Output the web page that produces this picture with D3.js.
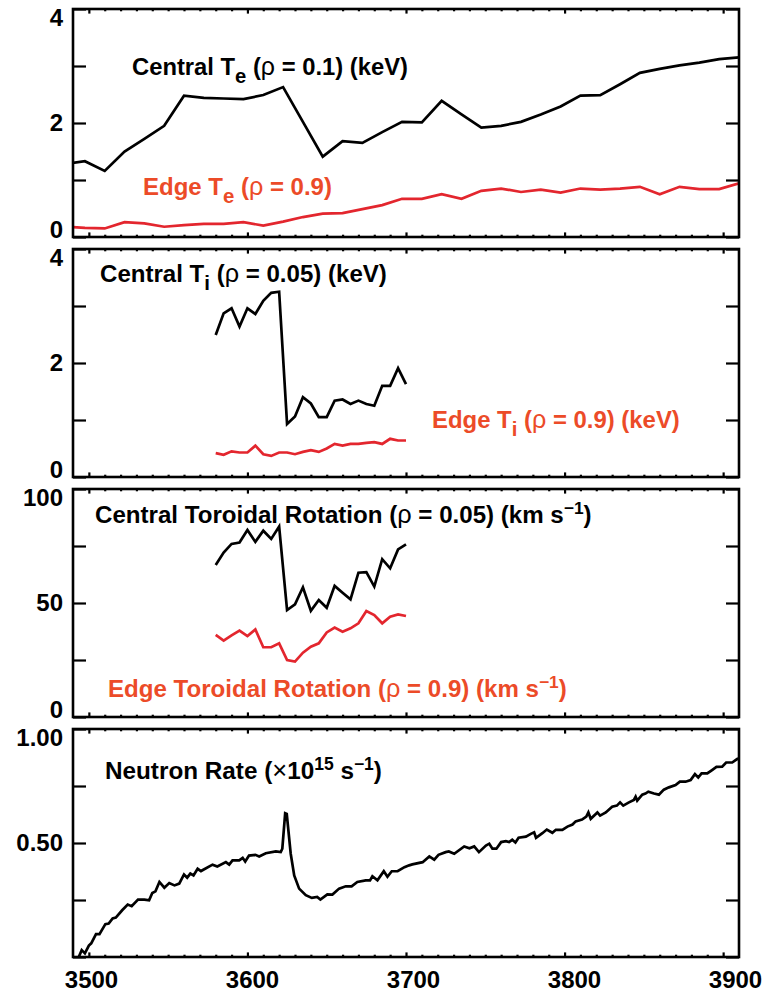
<!DOCTYPE html>
<html><head><meta charset="utf-8">
<script src="https://cdn.jsdelivr.net/npm/d3@7"></script>
<style>
html,body{margin:0;padding:0;background:#fff;}
svg{display:block;font-family:"Liberation Sans",Arial,Helvetica,sans-serif;font-weight:bold;}
</style></head><body>
<svg id="chart" width="774" height="994"></svg>
<script>
// ---------------- data ----------------
const xTicks = [3500, 3600, 3700, 3800, 3900];
const xTickLabels = ["3500", "3600", "3700", "3800", "3900"];

const teTime = [3485, 3497.5, 3510, 3522.5, 3535, 3547.5, 3560, 3572.5, 3585, 3597.5, 3610, 3622.5, 3635, 3647.5, 3660, 3672.5, 3685, 3697.5, 3710, 3722.5, 3735, 3747.5, 3760, 3772.5, 3785, 3797.5, 3810, 3822.5, 3835, 3847.5, 3860, 3872.5, 3885, 3897.5, 3910];
const teCentral = [1.28, 1.33, 1.16, 1.50, 1.72, 1.95, 2.48, 2.44, 2.43, 2.42, 2.49, 2.63, 2.02, 1.41, 1.68, 1.65, 1.84, 2.02, 2.01, 2.39, 2.15, 1.92, 1.95, 2.02, 2.15, 2.29, 2.48, 2.49, 2.68, 2.88, 2.95, 3.01, 3.06, 3.12, 3.15];
const teEdge = [0.18, 0.16, 0.15, 0.26, 0.24, 0.18, 0.21, 0.23, 0.23, 0.26, 0.20, 0.27, 0.35, 0.41, 0.42, 0.49, 0.56, 0.67, 0.67, 0.75, 0.67, 0.81, 0.85, 0.79, 0.83, 0.78, 0.85, 0.83, 0.85, 0.88, 0.75, 0.88, 0.84, 0.84, 0.94];
const teYTicks = [0, 1, 2, 3, 4];
const teYLabels = ["0", "", "2", "", "4"];

const tiTime = [3580, 3585, 3590, 3595, 3600, 3605, 3610, 3615, 3620, 3625, 3630, 3635, 3640, 3645, 3650, 3655, 3660, 3665, 3670, 3675, 3680, 3685, 3690, 3695, 3700];
const tiCentral = [2.49, 2.87, 2.96, 2.64, 2.96, 2.86, 3.09, 3.23, 3.25, 0.93, 1.06, 1.40, 1.29, 1.05, 1.05, 1.34, 1.36, 1.28, 1.34, 1.28, 1.25, 1.60, 1.60, 1.91, 1.63];
const tiEdge = [0.42, 0.39, 0.45, 0.43, 0.43, 0.55, 0.40, 0.37, 0.43, 0.43, 0.40, 0.44, 0.47, 0.44, 0.50, 0.58, 0.55, 0.58, 0.58, 0.60, 0.61, 0.58, 0.67, 0.64, 0.64];
const tiYTicks = [0, 1, 2, 3, 4];
const tiYLabels = ["0", "", "2", "", "4"];

const rotTime = [3580, 3585, 3590, 3595, 3600, 3605, 3610, 3615, 3620, 3625, 3630, 3635, 3640, 3645, 3650, 3655, 3660, 3665, 3670, 3675, 3680, 3685, 3690, 3695, 3700];
const rotCentral = [66.7, 72.1, 75.9, 76.5, 82.0, 76.8, 81.7, 78.1, 83.5, 46.9, 49.4, 56.9, 46.6, 51.3, 47.9, 57.5, 54.5, 51.6, 63.3, 63.5, 57.2, 69.2, 65.2, 73.5, 75.7];
const rotEdge = [36.0, 33.5, 35.8, 37.9, 35.5, 38.4, 30.6, 30.6, 32.3, 25.0, 24.3, 28.2, 30.8, 32.3, 37.1, 39.2, 37.4, 38.9, 41.1, 46.5, 44.7, 41.1, 44.0, 45.0, 44.3];
const rotYTicks = [0, 25, 50, 75, 100];
const rotYLabels = ["0", "", "50", "", "100"];

const neutronTime = [
  3493, 3495.5, 3497.5, 3500, 3501.5, 3504.5, 3506.7, 3510.4, 3512.5, 3515,
  3517, 3521, 3524.5, 3527, 3531, 3535, 3538, 3540, 3542, 3544.5,
  3547.6, 3550.7, 3554, 3557, 3560, 3562, 3564, 3566, 3568.6, 3570.7,
  3578, 3581, 3586.4, 3588.5, 3590.6, 3594.8, 3597, 3598.6, 3601, 3605,
  3607.4, 3611.6, 3617.9, 3621, 3622, 3623.8, 3624.8, 3627.3, 3629.5, 3632.6,
  3636.8, 3640.6, 3644, 3646, 3650.4, 3653.6, 3657.8, 3662, 3665.7, 3669.3,
  3674.6, 3677.3, 3678.8, 3682, 3686, 3688.3, 3691, 3694.7, 3699, 3702,
  3704, 3710.5, 3714.7, 3717.8, 3720.5, 3725, 3727, 3730.4, 3736.7, 3740,
  3743, 3746, 3750.4, 3752.5, 3754.5, 3757, 3760, 3763, 3765, 3767,
  3769, 3771, 3775.6, 3778.7, 3780.8, 3782, 3786, 3788.8, 3792.3, 3794.5,
  3798.6, 3801.8, 3805, 3807, 3811, 3813.7, 3815, 3816.5, 3820.7, 3822.4,
  3826, 3830, 3833, 3835, 3837, 3840.6, 3843.7, 3844.8, 3845.8, 3849,
  3851, 3852.8, 3856.4, 3859.5, 3862.6, 3865.8, 3870, 3872.7, 3876.3, 3879.5,
  3882.2, 3884.3, 3886.4, 3890, 3893, 3895.8, 3899.4, 3901.9, 3905.7, 3908.8,
  3912];
const neutronRate = [
  -0.01, 0.03, 0.016, 0.05, 0.06, 0.10, 0.10, 0.144, 0.147, 0.169,
  0.173, 0.205, 0.23, 0.223, 0.252, 0.252, 0.249, 0.281, 0.288, 0.329,
  0.304, 0.324, 0.314, 0.322, 0.362, 0.348, 0.366, 0.358, 0.387, 0.377,
  0.405, 0.397, 0.416, 0.405, 0.424, 0.424, 0.435, 0.419, 0.445, 0.448,
  0.441, 0.455, 0.463, 0.46, 0.475, 0.630, 0.627, 0.453, 0.358, 0.30,
  0.271, 0.259, 0.263, 0.252, 0.275, 0.274, 0.30, 0.31, 0.31, 0.329,
  0.336, 0.336, 0.354, 0.336, 0.376, 0.352, 0.376, 0.376, 0.394, 0.402,
  0.406, 0.416, 0.441, 0.427, 0.448, 0.46, 0.463, 0.453, 0.485, 0.477,
  0.485, 0.46, 0.489, 0.497, 0.475, 0.475, 0.504, 0.508, 0.504, 0.514,
  0.502, 0.523, 0.528, 0.54, 0.547, 0.523, 0.543, 0.559, 0.545, 0.558,
  0.558, 0.572, 0.581, 0.595, 0.603, 0.616, 0.634, 0.606, 0.634, 0.62,
  0.634, 0.659, 0.664, 0.678, 0.664, 0.678, 0.689, 0.703, 0.686, 0.712,
  0.717, 0.725, 0.717, 0.712, 0.734, 0.744, 0.754, 0.769, 0.769, 0.776,
  0.802, 0.787, 0.805, 0.805, 0.82, 0.834, 0.835, 0.853, 0.853, 0.868,
  0.875];
const neutronYTicks = [0, 0.25, 0.5, 0.75, 1.0];
const neutronYLabels = ["", "", "0.50", "", "1.00"];

// ---------------- layout ----------------
const BLACK = "#000000", RED_LINE = "#e3262e", RED_TEXT = "#ec4b28";
const L = 73, R = 739, PH = 228;
const FONT = "'Liberation Sans', Arial, Helvetica, sans-serif";
const svg = d3.select("#chart");
const x = d3.scaleLinear().domain([3490, 3910]).range([L, R]);
const xLabel = d3.scaleLinear().domain([3500, 3900]).range([91, 735]);
const xMinor = d3.range(3510, 3900, 10).filter(v => v % 100 !== 0);

const panels = [
  { top: 9, domain: [0, 4], ticks: teYTicks, labels: teYLabels,
    series: [{ t: teTime, v: teCentral, c: BLACK }, { t: teTime, v: teEdge, c: RED_LINE }],
    titles: [
      { x: 132, y: 75, w: 276, c: BLACK, segs: [["Central T"], ["e", "sub"], [" ("], ["ρ", "g"], [" = 0.1) (keV)"]] },
      { x: 143, y: 195, w: 189, c: RED_TEXT, segs: [["Edge T"], ["e", "sub"], [" ("], ["ρ", "g"], [" = 0.9)"]] }
    ] },
  { top: 249, domain: [0, 4], ticks: tiYTicks, labels: tiYLabels,
    series: [{ t: tiTime, v: tiCentral, c: BLACK }, { t: tiTime, v: tiEdge, c: RED_LINE }],
    titles: [
      { x: 100, y: 282, w: 287, c: BLACK, segs: [["Central T"], ["i", "sub"], [" ("], ["ρ", "g"], [" = 0.05) (keV)"]] },
      { x: 432, y: 428, w: 248, c: RED_TEXT, segs: [["Edge T"], ["i", "sub"], [" ("], ["ρ", "g"], [" = 0.9) (keV)"]] }
    ] },
  { top: 489, domain: [0, 100], ticks: rotYTicks, labels: rotYLabels,
    series: [{ t: rotTime, v: rotCentral, c: BLACK }, { t: rotTime, v: rotEdge, c: RED_LINE }],
    titles: [
      { x: 95, y: 523, w: 497, c: BLACK, segs: [["Central Toroidal Rotation ("], ["ρ", "g"], [" = 0.05) (km s"], ["−1", "sup"], [")"]] },
      { x: 108, y: 697, w: 459, c: RED_TEXT, segs: [["Edge Toroidal Rotation ("], ["ρ", "g"], [" = 0.9) (km s"], ["−1", "sup"], [")"]] }
    ] },
  { top: 729, domain: [0, 1], ticks: neutronYTicks, labels: neutronYLabels,
    series: [{ t: neutronTime, v: neutronRate, c: BLACK }],
    titles: [
      { x: 105, y: 779, w: 277, c: BLACK, segs: [["Neutron Rate ("], ["×", "g"], ["10"], ["15", "sup"], [" s"], ["−1", "sup"], [")"]] }
    ] }
];

function styleAxis(sel) {
  sel.select(".domain").remove();
  sel.attr("font-family", FONT).attr("font-size", 24).attr("font-weight", "bold");
  sel.selectAll(".tick line").attr("stroke", BLACK).attr("stroke-width", 2.2);
  sel.selectAll(".tick text").attr("fill", BLACK);
}

function drawTitle(spec) {
  const build = fs => {
    const k = fs / 24;
    const t = svg.append("text").attr("x", spec.x).attr("y", spec.y)
      .attr("fill", spec.c).attr("font-size", fs).attr("font-family", FONT).attr("font-weight", "bold");
    let cur = 0;
    spec.segs.forEach(s => {
      const kind = s[1];
      const off = kind === "sub" ? 8 * k : kind === "sup" ? -9 * k : 0;
      const sp = t.append("tspan").text(s[0]).attr("dy", off - cur);
      cur = off;
      if (kind === "sub") sp.attr("font-size", fs * 0.85);
      if (kind === "sup") sp.attr("font-size", fs * 0.72);
      if (kind === "g") sp.attr("font-weight", "normal").attr("font-size", fs * 1.05);
    });
    return t;
  };
  let t = build(24);
  const w = t.node().getComputedTextLength();
  t.remove();
  build(24 * spec.w / w);
}

panels.forEach((p, pi) => {
  const g = svg.append("g").attr("transform", `translate(0,${p.top})`);
  const y = d3.scaleLinear().domain(p.domain).range([PH, 0]);
  const clipId = "clip" + pi;
  g.append("clipPath").attr("id", clipId).append("rect")
    .attr("x", L).attr("y", 0).attr("width", R - L).attr("height", PH);

  const line = d3.line().x(d => x(d[0])).y(d => y(d[1]));
  p.series.forEach(s => {
    g.append("path").datum(s.t.map((t, i) => [t, s.v[i]]))
      .attr("clip-path", `url(#${clipId})`)
      .attr("fill", "none").attr("stroke", s.c).attr("stroke-width", 2.7)
      .attr("stroke-linejoin", "miter").attr("d", line);
  });

  // y axes (left with labels, right without)
  const ly = g.append("g").attr("transform", `translate(${L},0)`)
    .call(d3.axisLeft(y).tickValues(p.ticks).tickSizeInner(-13).tickSizeOuter(0).tickPadding(10)
      .tickFormat((d, i) => p.labels[i]));
  styleAxis(ly);
  ly.selectAll(".tick text").attr("y", d => d === p.domain[1] ? 9 : d === p.domain[0] ? -7 : 0);
  const ry = g.append("g").attr("transform", `translate(${R},0)`)
    .call(d3.axisRight(y).tickValues(p.ticks).tickSizeInner(-13).tickSizeOuter(0).tickFormat(""));
  styleAxis(ry);

  // x ticks top/bottom, major and minor
  [[0, d3.axisTop], [PH, d3.axisBottom]].forEach(([yy, ax]) => {
    const a1 = g.append("g").attr("transform", `translate(0,${yy})`)
      .call(ax(x).tickValues(xTicks).tickSizeInner(-4.6).tickSizeOuter(0).tickFormat(""));
    styleAxis(a1);
    const a2 = g.append("g").attr("transform", `translate(0,${yy})`)
      .call(ax(x).tickValues(xMinor).tickSizeInner(-2.3).tickSizeOuter(0).tickFormat(""));
    styleAxis(a2);
  });

  // frame
  g.append("rect").attr("x", L).attr("y", 0).attr("width", R - L).attr("height", PH)
    .attr("fill", "none").attr("stroke", BLACK).attr("stroke-width", 2.6);

  if (pi === panels.length - 1) {
    const bx = g.append("g").attr("transform", `translate(0,${PH})`)
      .call(d3.axisBottom(xLabel).tickValues(xTicks).tickSize(0).tickPadding(14)
        .tickFormat((d, i) => xTickLabels[i]));
    styleAxis(bx);
  }

  p.titles.forEach(drawTitle);
});
</script>
</body></html>
